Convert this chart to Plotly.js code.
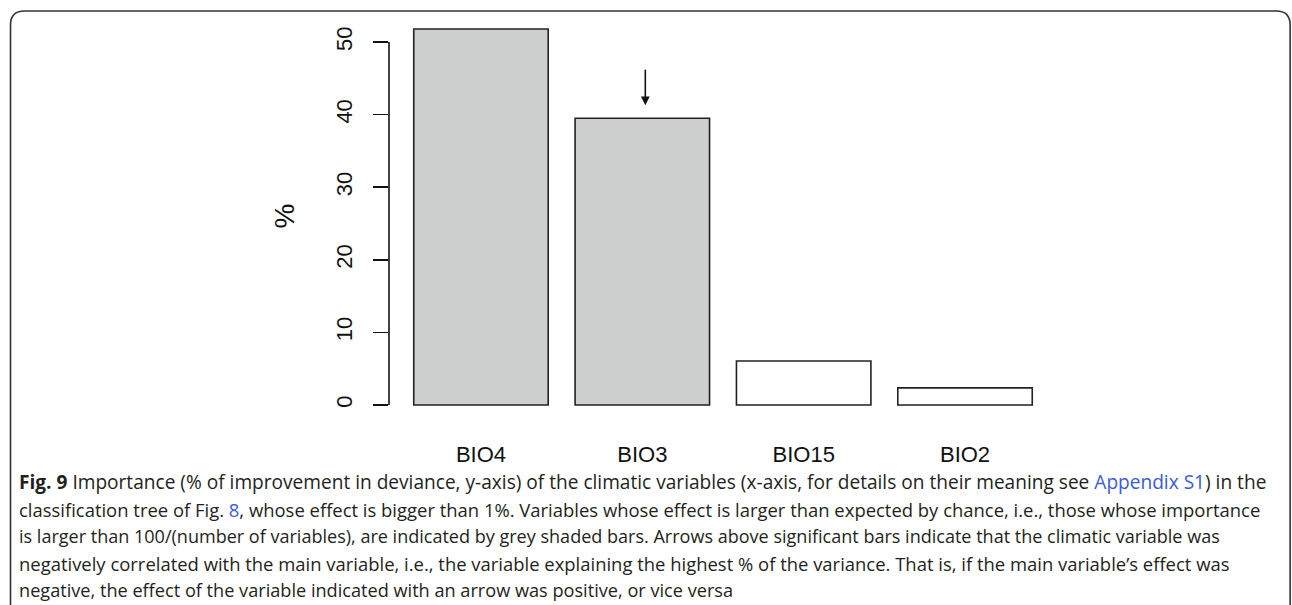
<!DOCTYPE html>
<html>
<head>
<meta charset="utf-8">
<script src="https://cdn.plot.ly/plotly-3.0.1.min.js"></script>
<style>html,body{margin:0;padding:0;background:#fff;}#chart{width:1292px;height:605px;}</style>
</head>
<body>
<div id="chart"></div>
<script>
// ---- data ----
const categories = ['BIO4', 'BIO3', 'BIO15', 'BIO2'];
const importance = [51.8, 39.5, 6.05, 2.35];
const significant = [true, true, false, false];
const arrowVariables = ['BIO3'];
const yTicks = [0, 10, 20, 30, 40, 50];
const yTitle = '%';
const captionLines = [
  "<b>Fig. 9</b> Importance (% of improvement in deviance, y-axis) of the climatic variables (x-axis, for details on their meaning see <span style='color:#3b5bdb'>Appendix S1</span>) in the",
  "classification tree of Fig. <span style='color:#3b5bdb'>8</span>, whose effect is bigger than 1%. Variables whose effect is larger than expected by chance, i.e., those whose importance",
  "is larger than 100/(number of variables), are indicated by grey shaded bars. Arrows above significant bars indicate that the climatic variable was",
  "negatively correlated with the main variable, i.e., the variable explaining the highest % of the variance. That is, if the main variable’s effect was",
  "negative, the effect of the variable indicated with an arrow was positive, or vice versa"
];
const captionSizes = [19.1, 18.45, 18.05, 18.45, 18.15];

// ---- layout geometry (pixels) ----
const W = 1292, H = 605;
const L = 388.6, R = 235.2, T = 14, B = 185;
const PW = W - L - R, PH = H - T - B;
const px = v => (v - L) / PW;
const py = v => (H - B - v) / PH;

const ymax = Math.max(...importance);
const yRange = [-0.04 * ymax, ymax * 1.04];

const trace = {
  type: 'bar',
  x: categories,
  y: importance,
  marker: {
    color: significant.map(s => s ? '#cdcfce' : '#ffffff'),
    line: {color: '#222222', width: 1.6}
  },
  hoverinfo: 'x+y'
};

const annotations = [];
arrowVariables.forEach(v => {
  const i = categories.indexOf(v);
  annotations.push({
    x: v, y: importance[i] + 1.8, xref: 'x', yref: 'y', xshift: 3,
    text: '', showarrow: true, ax: 0, ay: -37,
    arrowhead: 2, arrowsize: 1.1, arrowwidth: 1.6, arrowcolor: '#111', standoff: 0
  });
});
annotations.push({
  x: px(285), y: py(216), xref: 'paper', yref: 'paper',
  xanchor: 'center', yanchor: 'middle',
  text: yTitle, textangle: -90, showarrow: false,
  font: {family: 'Liberation Sans, Arial, sans-serif', size: 28, color: '#111'}
});
const lineY = [482, 509, 536, 563, 590];
captionLines.forEach((t, k) => {
  annotations.push({
    x: px(16), y: py(lineY[k]), xref: 'paper', yref: 'paper',
    xanchor: 'left', yanchor: 'middle', align: 'left',
    text: t, showarrow: false,
    font: {family: 'Open Sans, Noto Sans, sans-serif', size: captionSizes[k], color: '#231f20'}
  });
});

// rounded border
const x0 = 10, x1 = 1290, y0 = 11, y1 = 620, r = 14;
const borderPath = `M ${px(x0)} ${py(y1)} L ${px(x0)} ${py(y0 + r)} Q ${px(x0)} ${py(y0)} ${px(x0 + r)} ${py(y0)} L ${px(x1 - r)} ${py(y0)} Q ${px(x1)} ${py(y0)} ${px(x1)} ${py(y0 + r)} L ${px(x1)} ${py(y1)}`;

const layout = {
  width: W, height: H,
  margin: {l: L, r: R, t: T, b: B, pad: 0},
  paper_bgcolor: '#ffffff', plot_bgcolor: '#ffffff',
  showlegend: false,
  bargap: 0.2 / 1.2,
  xaxis: {
    type: 'category',
    range: [-0.57, 3.57],
    showline: false, showgrid: false, zeroline: false, ticks: '',
    tickfont: {family: 'Liberation Sans, Arial, sans-serif', size: 22, color: '#111'},
    ticklabelstandoff: 19
  },
  yaxis: {
    range: yRange,
    tickvals: yTicks,
    ticktext: yTicks.map(String),
    tickangle: -90,
    showline: false, showgrid: false, zeroline: false,
    ticks: 'outside', ticklen: 15, tickwidth: 1.6, tickcolor: '#111',
    tickfont: {family: 'Liberation Sans, Arial, sans-serif', size: 22, color: '#111'},
    ticklabelstandoff: 12
  },
  shapes: [
    {type: 'line', xref: 'paper', yref: 'y', x0: 0, x1: 0, y0: yTicks[0], y1: yTicks[yTicks.length - 1],
     line: {color: '#111', width: 1.6}},
    {type: 'path', xref: 'paper', yref: 'paper', path: borderPath, line: {color: '#333', width: 1.6}, layer: 'below'}
  ],
  annotations: annotations
};

Plotly.newPlot('chart', [trace], layout, {displayModeBar: false, staticPlot: true});
</script>
</body>
</html>
